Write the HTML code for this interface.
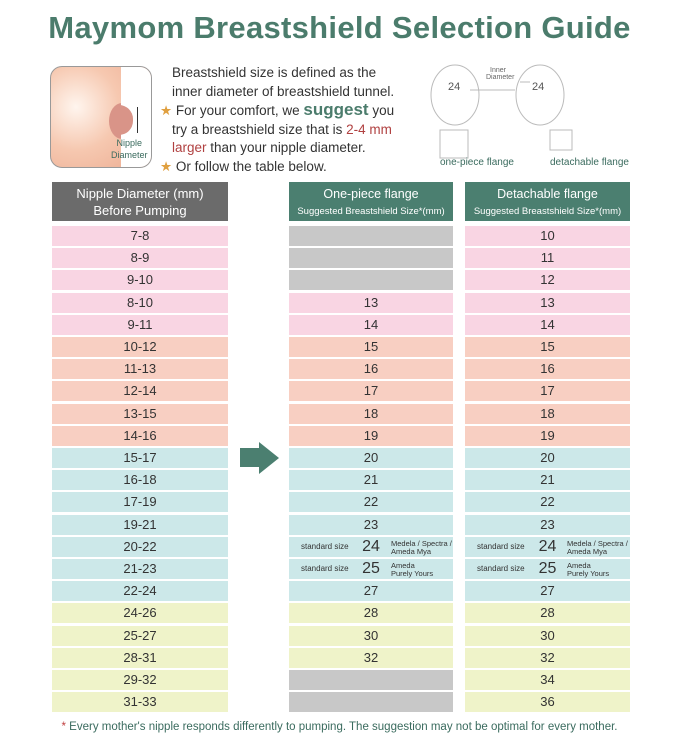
<!DOCTYPE html><html><head><meta charset="utf-8"><style>
body{margin:0;width:679px;height:745px;background:#fff;font-family:"Liberation Sans",sans-serif;position:relative;overflow:hidden}
.a{position:absolute}
.r{position:absolute;height:20px;line-height:20px;text-align:center;font-size:13px;color:#333}
.h{position:absolute;color:#fff;text-align:center}
</style></head><body>
<div class="a" style="left:0;width:679px;top:10px;text-align:center;font-size:31px;font-weight:bold;color:#4b7c6c;letter-spacing:0.3px">Maymom Breastshield Selection Guide</div>
<div class="a" style="left:50px;top:66px;width:100px;height:100px;border:1px solid #999;border-radius:12px;background:radial-gradient(circle at 25% 40%,#fff5ee 0,#f6c8b0 45%,#eba98e 100%);overflow:hidden">
<div class="a" style="left:58px;top:36px;width:26px;height:36px;border-radius:50%;background:#d99488"></div>
<div class="a" style="left:0;top:0;width:100px;height:100px;background:linear-gradient(90deg,transparent 70%,#fff 70%)"></div>
<div class="a" style="left:66px;top:38px;width:16px;height:30px;border-radius:0 14px 14px 0;background:#d99488"></div>
<div class="a" style="left:86px;top:40px;width:1px;height:26px;background:#333"></div>
<div class="a" style="left:60px;top:70px;font-size:9px;color:#3a6b5e;text-align:center;line-height:12px">Nipple<br>Diameter</div></div>
<div class="a" style="left:160px;top:64px;font-size:13.5px;line-height:18.5px;color:#333;width:260px">
<div style="padding-left:12px">Breastshield size is defined as the<br>inner diameter of breastshield tunnel.</div>
<div><span style="color:#e0a040">★</span> For your comfort, we <b style="color:#4b7c6c;font-size:17px">suggest</b> you</div>
<div style="padding-left:12px">try a breastshield size that is <span style="color:#b04040">2-4 mm</span><br><span style="color:#b04040">larger</span> than your nipple diameter.</div>
<div><span style="color:#e0a040">★</span> Or follow the table below.</div></div>
<svg class="a" style="left:420px;top:60px" width="230" height="110"><g fill="none" stroke="#bbb">
<ellipse cx="35" cy="35" rx="24" ry="30"/><ellipse cx="120" cy="35" rx="24" ry="30"/><rect x="20" y="70" width="28" height="28"/><rect x="130" y="70" width="22" height="20"/><path d="M50 30 H95 M100 22 H110"/></g>
<text x="28" y="30" font-size="11" fill="#555">24</text><text x="112" y="30" font-size="11" fill="#555">24</text>
<text x="70" y="12" font-size="7" fill="#666">Inner</text><text x="66" y="19" font-size="7" fill="#666">Diameter</text>
<text x="20" y="105" font-size="10" fill="#3a6b5e">one-piece flange</text><text x="130" y="105" font-size="10" fill="#3a6b5e">detachable flange</text></svg>
<div class="h" style="left:52px;top:182px;width:176px;height:39px;background:#6b6b6b;font-size:13px;line-height:17px;padding-top:3px;box-sizing:border-box">Nipple Diameter (mm)<br>Before Pumping</div>
<div class="h" style="left:289px;top:182px;width:164px;height:39px;background:#4b7f70;font-size:12.5px;line-height:16px;padding-top:4px;box-sizing:border-box">One-piece flange<br><span style="font-size:9.5px">Suggested Breastshield Size*(mm)</span></div>
<div class="h" style="left:465px;top:182px;width:165px;height:39px;background:#4b7f70;font-size:12.5px;line-height:16px;padding-top:4px;box-sizing:border-box">Detachable flange<br><span style="font-size:9.5px">Suggested Breastshield Size*(mm)</span></div>
<svg class="a" style="left:240px;top:442px" width="40" height="33"><polygon points="0,6 19,6 19,0 39,16 19,32 19,25 0,25" fill="#4b7f70"/></svg>
<div id="t"></div>
<div class="a" style="left:0;width:679px;top:721px;text-align:center;font-size:11.5px;color:#3a6b5e"><span style="color:#c04040">*</span> Every mother's nipple responds differently to pumping. The suggestion may not be optimal for every mother.</div>
<script>
var L=["7-8","8-9","9-10","8-10","9-11","10-12","11-13","12-14","13-15","14-16","15-17","16-18","17-19","19-21","20-22","21-23","22-24","24-26","25-27","28-31","29-32","31-33"];
var M=["","","","13","14","15","16","17","18","19","20","21","22","23","24","25","27","28","30","32","",""];
var R=["10","11","12","13","14","15","16","17","18","19","20","21","22","23","24","25","27","28","30","32","34","36"];
var C=["#f9d5e3","#f8cfc2","#cce8e9","#eff3c9"];
var h="";
for(var i=0;i<22;i++){var c=C[i<5?0:i<10?1:i<17?2:3];var y=226+i*22.2;
var mc=(i<3||i>19)?"#c8c8c8":c;
h+='<div class="r" style="left:52px;width:176px;top:'+y+'px;background:'+c+'">'+L[i]+'</div>';
var ex=function(){if(i==14)return '<span style="position:absolute;left:12px;font-size:8px">standard size</span><span style="position:absolute;left:102px;top:3px;font-size:7.5px;line-height:8px;text-align:left">Medela / Spectra /<br>Ameda Mya</span>';if(i==15)return '<span style="position:absolute;left:12px;font-size:8px">standard size</span><span style="position:absolute;left:102px;top:3px;font-size:7.5px;line-height:8px;text-align:left">Ameda<br>Purely Yours</span>';return ""}();
var fs=(i==14||i==15)?'font-size:16px;':'';
h+='<div class="r" style="left:289px;width:164px;top:'+y+'px;background:'+mc+'"><span style="'+fs+'">'+M[i]+'</span>'+ex+'</div>';
h+='<div class="r" style="left:465px;width:165px;top:'+y+'px;background:'+c+'"><span style="'+fs+'">'+R[i]+'</span>'+ex+'</div>';}
document.getElementById("t").innerHTML=h;
</script></body></html>
